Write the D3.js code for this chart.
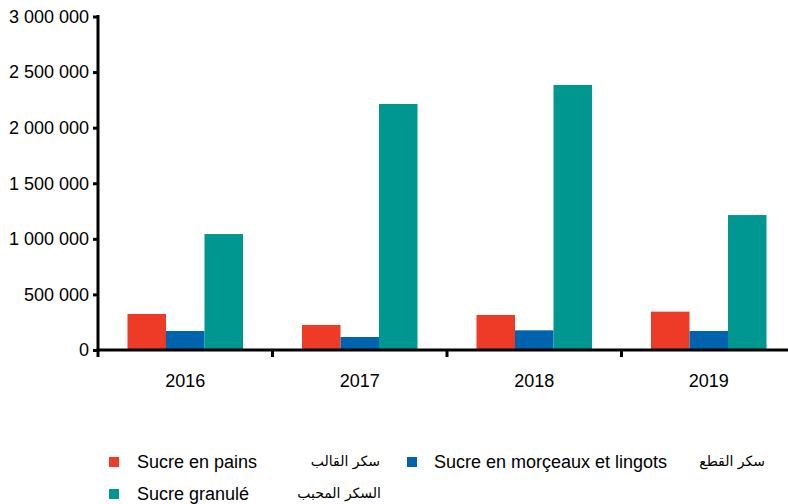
<!DOCTYPE html>
<html><head><meta charset="utf-8">
<script src="https://cdn.jsdelivr.net/npm/d3@7"></script>
<style>
html,body{margin:0;padding:0;background:#fff;}
svg{display:block;font-family:"Liberation Sans",Arial,sans-serif;}
</style></head>
<body>
<svg id="chart" width="788" height="504"></svg>
<script>
const years = ["2016","2017","2018","2019"];
const seriesNamesFr = ["Sucre en pains","Sucre en morçeaux et lingots","Sucre granulé"];
const seriesNamesAr = ["سكر القالب","سكر القطع","السكر المحبب"];
const seriesColors = ["#ee3b28","#0063ae","#009791"];
const painsValues = [324000, 225000, 315000, 345000];
const morceauxValues = [171000, 117000, 177000, 171000];
const granuleValues = [1043000, 2213000, 2384000, 1214000];
const yTicks = [0, 500000, 1000000, 1500000, 2000000, 2500000, 3000000];

const allSeries = [painsValues, morceauxValues, granuleValues];
const svg = d3.select("#chart");

const x0 = 98, x1 = 796, yBase = 350, yTop = 16.5;
const x = d3.scaleBand().domain(years).range([x0, x1]).paddingInner(0.338).paddingOuter(0.169);
const xs = d3.scaleBand().domain(d3.range(3)).range([0, x.bandwidth()]);
const y = d3.scaleLinear().domain([0, 3000000]).range([yBase, yTop]);

const fmt = v => d3.format(",")(v).replace(/,/g, " ");

// bars
years.forEach((yr, i) => {
  allSeries.forEach((vals, s) => {
    svg.append("rect")
      .attr("x", x(yr) + xs(s))
      .attr("y", y(vals[i]))
      .attr("width", xs.bandwidth())
      .attr("height", yBase - y(vals[i]))
      .attr("fill", seriesColors[s]);
  });
});

// y axis
const yAxis = d3.axisLeft(y).tickValues(yTicks).tickFormat(fmt).tickSize(5).tickPadding(4);
const gy = svg.append("g").attr("transform", `translate(${x0},0)`).call(yAxis);
gy.select(".domain").attr("stroke", "#000").attr("stroke-width", 3).attr("d", `M0,${yTop - 1.5}V${yBase + 1.5}`);
gy.selectAll(".tick line").attr("stroke", "#000").attr("stroke-width", 3);
gy.selectAll(".tick text").attr("font-size", 18).attr("fill", "#000")
  .attr("font-family", "'Liberation Sans',Arial,sans-serif");

// x axis
const step = x.step();
const gx = svg.append("g").attr("transform", `translate(0,${yBase})`);
gx.append("line").attr("x1", x0 - 1.5).attr("x2", 790).attr("y1", 0).attr("y2", 0)
  .attr("stroke", "#000").attr("stroke-width", 3);
years.forEach((yr, i) => {
  gx.append("line").attr("x1", x0 + i * step).attr("x2", x0 + i * step)
    .attr("y1", 0).attr("y2", 7).attr("stroke", "#000").attr("stroke-width", 3);
  gx.append("text").attr("x", x(yr) + x.bandwidth() / 2).attr("y", 37)
    .attr("text-anchor", "middle").attr("font-size", 18).attr("fill", "#000").text(yr);
});

// legend
const legendItems = [
  {sq: 109, sy: 457, tx: 137, ar: 380},
  {sq: 407, sy: 457, tx: 434, ar: 765},
  {sq: 109, sy: 489, tx: 137, ar: 381}
];
legendItems.forEach((it, s) => {
  svg.append("rect").attr("x", it.sq).attr("y", it.sy).attr("width", 10).attr("height", 10)
    .attr("fill", seriesColors[s]);
  svg.append("text").attr("x", it.tx).attr("y", it.sy + 10.5).attr("font-size", 18)
    .attr("fill", "#000").text(seriesNamesFr[s]);
  svg.append("text").attr("x", it.ar).attr("y", it.sy + 9).attr("font-size", 14)
    .attr("text-anchor", "end").attr("fill", "#000")
    .attr("font-family", "'DejaVu Sans',sans-serif")
    .text(seriesNamesAr[s]);
});
</script>
</body></html>
